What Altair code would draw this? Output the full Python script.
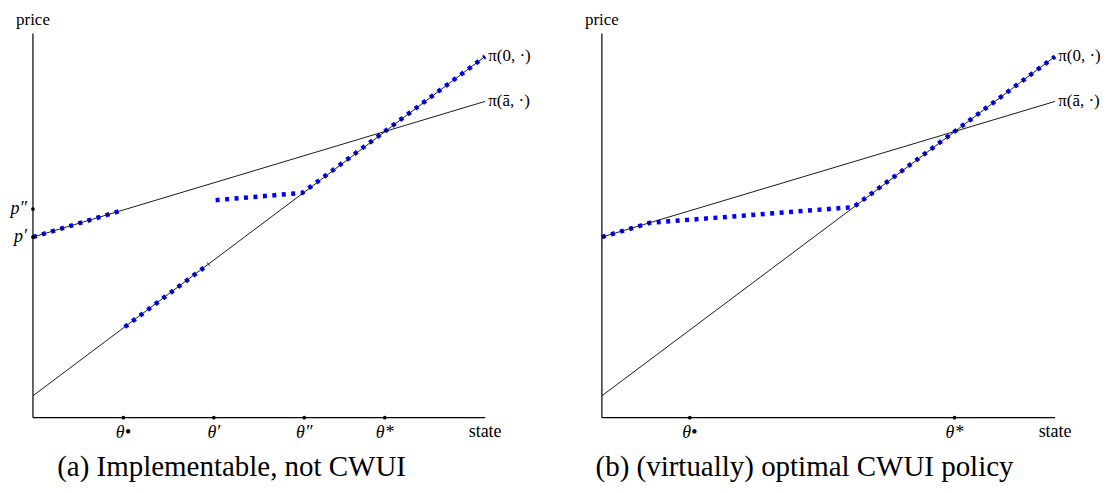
import altair as alt
import pandas as pd

FONT = "Liberation Serif"

# ---- values (state and price units) ----
line_x = [0.0, 10.0]
pi0_y = [0.57, 9.40]        # pi(0, .)
pibar_y = [4.70, 8.23]      # pi(a-bar, .)

# panel (a)
a_ticks = [2.0, 4.0, 6.0, 7.78]
a_tick_labels = ["θ•", "θ′", "θ″", "θ*"]
a_pticks = [5.43, 4.70]
a_ptick_labels = ["p″", "p′"]
a_seg_id = [1, 1, 2, 2, 3, 3, 3]
a_seg_x = [0.0, 1.90, 2.03, 3.89, 4.04, 5.96, 10.0]
a_seg_y = [4.70, 5.37, 2.36, 4.00, 5.66, 5.85, 9.40]

# panel (b)
b_ticks = [1.94, 7.78]
b_tick_labels = ["θ•", "θ*"]
b_seg_id = [1, 1, 1, 1]
b_seg_x = [0.0, 1.06, 5.55, 10.0]
b_seg_y = [4.70, 5.07, 5.48, 9.40]

curve_labels = ["π(0, ·)", "π(ā, ·)"]
captions = ["(a) Implementable, not CWUI", "(b) (virtually) optimal CWUI policy"]

H = 477
YDOM = [-1.740, 10.649]


def panel(width, xdom, ticks, tick_labels, pticks, ptick_labels,
          seg_id, seg_x, seg_y, caption, cap_x):
    xs = alt.Scale(domain=xdom, nice=False, zero=False)
    ys = alt.Scale(domain=YDOM, nice=False, zero=False)

    lines = pd.DataFrame({
        "x": line_x * 2,
        "y": pi0_y + pibar_y,
        "c": ["pi0", "pi0", "pibar", "pibar"],
    })
    segs = pd.DataFrame({"x": seg_x, "y": seg_y, "s": seg_id,
                         "o": list(range(len(seg_x)))})
    axes = pd.DataFrame({"x": [0.0, 0.0], "y": [0.0, 0.0],
                         "x2": [0.0, 10.0], "y2": [10.0, 0.0]})
    tdf = pd.DataFrame({"x": ticks, "y": [0.0] * len(ticks), "t": tick_labels})
    pdf = pd.DataFrame({"x": [0.0] * len(pticks), "y": pticks, "t": ptick_labels})
    ldf = pd.DataFrame({"x": [10.07, 10.07], "y": [pi0_y[1], pibar_y[1]],
                        "t": curve_labels})

    X = lambda f="x": alt.X(f"{f}:Q", scale=xs, axis=None)
    Y = lambda f="y": alt.Y(f"{f}:Q", scale=ys, axis=None)

    blue = alt.Chart(segs).mark_line(
        color="#0000ff", strokeWidth=4.5, strokeDash=[4, 5.5], strokeCap="butt"
    ).encode(x=X(), y=Y(), detail="s:N", order="o:Q")

    black = alt.Chart(lines).mark_line(color="black", strokeWidth=0.9).encode(
        x=X(), y=Y(), detail="c:N")

    axis_rules = alt.Chart(axes).mark_rule(color="black", strokeWidth=1.2).encode(
        x=X(), y=Y(), x2="x2:Q", y2="y2:Q")

    tick_pts = alt.Chart(tdf).mark_circle(color="black", size=14, opacity=1).encode(
        x=X(), y=Y())
    tick_txt = alt.Chart(tdf).mark_text(
        font=FONT, fontSize=18, fontStyle="italic", baseline="middle", dy=15
    ).encode(x=X(), y=Y(), text="t:N")

    layers = [blue, black, axis_rules, tick_pts, tick_txt]

    if pticks:
        p_pts = alt.Chart(pdf).mark_circle(color="black", size=14, opacity=1).encode(
            x=X(), y=Y())
        p_txt = alt.Chart(pdf).mark_text(
            font=FONT, fontSize=18, fontStyle="italic", align="right",
            baseline="middle", dx=-6
        ).encode(x=X(), y=Y(), text="t:N")
        layers += [p_pts, p_txt]

    curve_txt = alt.Chart(ldf).mark_text(
        font=FONT, fontSize=17, align="left", baseline="middle"
    ).encode(x=X(), y=Y(), text="t:N")

    axis_names = pd.DataFrame({"x": [0.0, 10.0], "y": [10.36, 0.0],
                               "t": ["price", "state"]})
    price_txt = alt.Chart(axis_names.iloc[[0]]).mark_text(
        font=FONT, fontSize=17, baseline="middle"
    ).encode(x=X(), y=Y(), text="t:N")
    state_txt = alt.Chart(axis_names.iloc[[1]]).mark_text(
        font=FONT, fontSize=18, baseline="middle", dy=14
    ).encode(x=X(), y=Y(), text="t:N")

    cap = alt.Chart(pd.DataFrame({"t": [caption]})).mark_text(
        font=FONT, fontSize=29, baseline="alphabetic"
    ).encode(x=alt.value(cap_x), y=alt.value(468), text="t:N")

    layers += [curve_txt, price_txt, state_txt, cap]
    return alt.layer(*layers).properties(width=width, height=H)


pa = panel(540, [-0.552, 11.369], a_ticks, a_tick_labels, a_pticks, a_ptick_labels,
           a_seg_id, a_seg_x, a_seg_y, captions[0], 224)
pb = panel(553, [-1.211, 10.969], b_ticks, b_tick_labels, [], [],
           b_seg_id, b_seg_x, b_seg_y, captions[1], 258)

chart = alt.hconcat(pa, pb, spacing=0).properties(padding=0).configure_view(
    strokeWidth=0).configure_concat(spacing=0)

chart.save("out.html", embed_options={"renderer": "svg", "actions": False})
